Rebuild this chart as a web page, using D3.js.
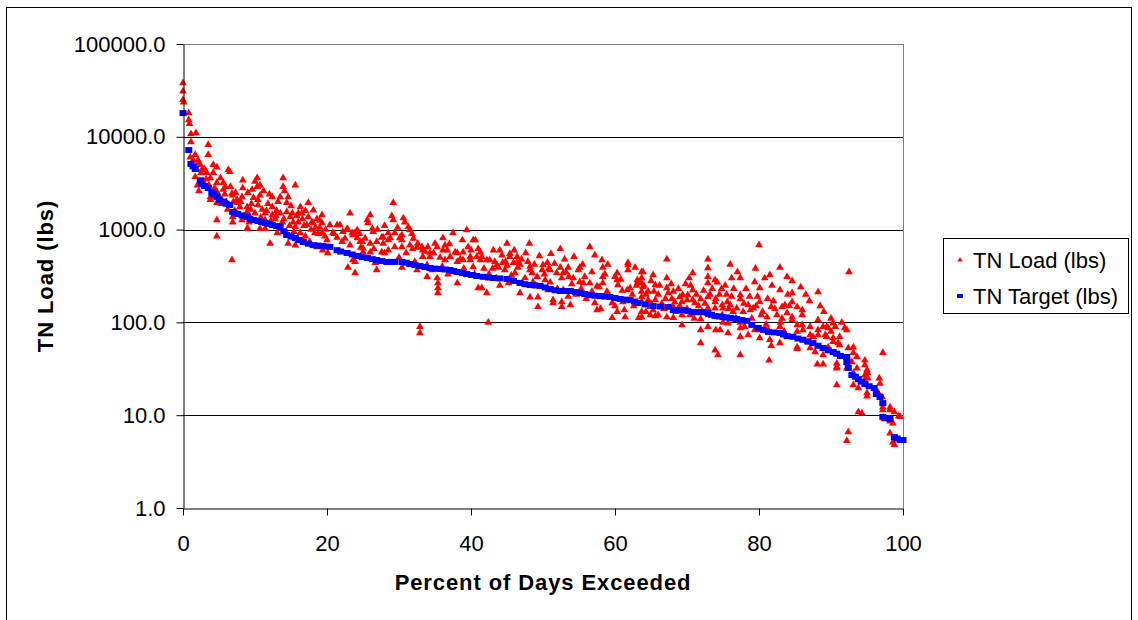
<!DOCTYPE html>
<html>
<head>
<meta charset="utf-8">
<script src="https://cdn.jsdelivr.net/npm/d3@7"></script>
<style>
body { margin: 0; background: #fff; }
text { font-family: "Liberation Sans", Arial, sans-serif; }
</style>
</head>
<body>
<svg id="chart" width="1138" height="620"></svg>
<script>
var xTicks = [0, 20, 40, 60, 80, 100];
var yTicks = [1, 10, 100, 1000, 10000, 100000];
var seriesNames = ["TN Load (lbs)", "TN Target (lbs)"];
var xTitle = "Percent of Days Exceeded";
var yTitle = "TN Load (lbs)";

// load duration target: [percent of days exceeded, lbs]
var targetPoints = [
  [0, 18000], [0.8, 7200], [1.1, 5100], [1.4, 4800], [1.7, 4500], [2.4, 3400], [2.6, 3100],
  [3.0, 2950], [3.5, 2800], [4.0, 2500], [4.3, 2400], [4.7, 2250], [5.1, 2100], [5.6, 2000],
  [6.0, 1900], [6.5, 1840], [6.9, 1550], [7.2, 1500], [7.6, 1470], [8.2, 1420], [8.9, 1370],
  [9.3, 1300], [9.8, 1270], [10.4, 1240], [10.9, 1210], [11.4, 1180], [11.9, 1150], [12.4, 1120],
  [13.0, 1090], [13.5, 1070], [14.0, 960], [14.4, 875], [15.0, 840], [15.6, 810], [16.1, 770],
  [16.7, 735], [17.4, 705], [18.1, 680], [18.7, 672], [19.4, 665], [20.0, 655], [20.4, 650],
  [21.4, 600], [21.9, 580], [22.8, 560], [23.5, 540], [24.2, 520], [24.9, 505], [25.6, 494],
  [26.3, 480], [26.9, 470], [27.6, 458], [28.3, 448], [29.0, 448], [29.4, 448], [30.4, 448],
  [31.0, 440], [31.5, 426], [32.2, 415], [32.9, 405], [33.6, 395], [34.3, 386], [35.0, 380],
  [35.7, 376], [36.4, 372], [37.1, 367], [37.6, 358], [38.1, 349], [38.8, 340], [39.4, 332],
  [40.1, 324], [40.8, 316], [41.7, 310], [42.4, 305], [43.1, 301], [44.0, 298], [45.0, 294],
  [45.9, 280], [46.8, 266], [47.5, 258], [48.2, 253], [48.9, 250], [49.6, 247], [50.3, 238],
  [51.0, 229], [51.7, 222], [52.4, 218], [53.1, 218], [53.8, 218], [54.5, 212], [55.1, 207],
  [55.8, 202], [56.5, 197], [57.2, 194], [57.9, 192], [58.6, 190], [59.3, 188], [60.0, 183],
  [60.7, 179], [61.4, 176], [62.1, 174], [62.7, 168], [63.2, 162], [64.2, 156], [65.3, 150],
  [66.3, 148], [67.4, 147], [68.1, 136], [68.7, 136], [69.4, 136], [70.1, 133], [70.8, 129],
  [71.5, 129], [72.1, 129], [72.9, 126], [73.4, 121], [73.9, 117], [74.5, 116], [75.0, 114],
  [75.5, 113], [76.0, 112], [76.5, 110], [76.9, 109], [77.6, 106], [78.3, 104], [79.0, 94],
  [79.9, 87], [80.6, 83], [81.3, 79], [82.1, 78], [82.9, 77], [83.4, 74], [83.9, 71],
  [84.7, 70], [85.4, 67], [86.1, 65], [86.8, 62], [87.5, 60], [88.2, 56], [88.9, 53],
  [89.6, 50], [90.3, 48], [90.8, 46], [91.3, 43.5], [92.2, 42.4], [92.2, 37.4], [92.4, 32.3],
  [92.9, 27.1], [93.4, 26], [93.8, 24.5], [94.2, 23], [94.7, 21.7], [95.3, 20.5], [96.0, 19.6],
  [96.3, 16.9], [96.8, 15.7], [97.2, 13.5], [97.2, 9.6], [97.7, 9.3], [98.2, 9.1], [98.8, 5.8],
  [99.2, 5.6], [99.6, 5.4], [100, 5.4]
];

// daily TN loads: [percent of days exceeded, lbs]
var loadPoints = [
  // 0 - 20 %
  [0, 38000], [0, 31000], [0, 25000], [0.1, 23500], [0.8, 18000], [0.8, 15200], [0.9, 13800],
  [1.1, 10700], [1.8, 11000], [1.1, 8800], [1.0, 6000], [1.7, 6400], [1.4, 5600], [2.1, 5600],
  [2.4, 5000], [1.9, 4400], [2.5, 4100], [3.5, 8200], [3.5, 6400], [4.2, 5000], [4.7, 4700],
  [4.2, 4100], [3.3, 4100], [2.6, 4400], [1.7, 3700], [3.8, 3600], [4.7, 3200], [5.6, 3200],
  [6.3, 4400], [6.5, 4200], [5.6, 2700], [4.7, 2550], [3.8, 2250], [3.8, 2100], [4.7, 1950],
  [6.8, 2450], [6.9, 2350], [7.6, 1950], [7.9, 1750], [8.3, 3400], [8.3, 2800], [9.0, 2500],
  [8.2, 2250], [8.9, 1750], [8.9, 1550], [6.9, 1370], [6.9, 1200], [8.2, 1270], [9.0, 1020],
  [9.3, 1370], [10.3, 3600], [10.3, 2900], [10.7, 3000], [10.7, 2350], [10.4, 2100], [10.4, 1840],
  [11.4, 1500], [11.4, 1270], [12.4, 2250], [12.4, 1750], [12.4, 1440], [13.5, 2250], [13.9, 3600],
  [13.9, 2900], [14.4, 1950], [14.4, 1550], [13.5, 1500], [14.6, 2250], [15.6, 3000], [14.9, 1370],
  [15.3, 1200], [15.6, 1070], [16.3, 1750], [16.5, 1500], [17.4, 1950], [17.4, 1370], [17.2, 1120],
  [18.1, 1620], [18.1, 1180], [18.3, 920], [18.6, 650], [19.3, 1440], [19.3, 1180], [19.3, 920],
  [19.4, 600], [20.1, 560], [20.0, 770], [12.1, 710], [13.5, 1020], [14.6, 710], [15.6, 680],
  [13.1, 920], [11.4, 1020], [8.9, 1020], [4.7, 1270], [4.7, 850], [6.8, 470], [10.7, 1020],
  [14.4, 920], [16.3, 920], [17.6, 740], [16.7, 770],
  [2.0, 3000], [2.8, 3300], [3.0, 2900], [3.2, 3500], [2.2, 2600], [5.0, 2300], [5.3, 1900],
  [6.0, 2000], [6.2, 1650], [7.2, 1600], [7.5, 2100], [9.5, 1900], [9.8, 2200], [11.0, 1650],
  [11.8, 1900], [12.8, 1300], [13.0, 1600], [15.0, 1800], [15.8, 1400], [16.0, 1200], [16.8, 1100],
  [17.8, 1000], [18.6, 1300], [19.0, 1050], [19.7, 850], [11.2, 2600], [12.0, 2400], [13.2, 2000],
  [14.1, 2600], [10.0, 3300], [9.6, 2700], [7.0, 2000], [5.8, 2400], [4.4, 2800], [3.6, 3000],
  [8.5, 1400], [9.2, 1200], [12.7, 1100], [14.8, 1100], [16.0, 1500], [18.8, 900],
  [10.0, 1500], [10.8, 1350], [11.6, 1600], [12.2, 1250], [13.8, 1200], [15.2, 1500], [16.6, 1300],
  [17.0, 1600], [17.9, 1200], [18.4, 1050], [19.0, 1250], [19.8, 1000], [6.6, 2900], [7.3, 2500],
  [8.0, 2000], [5.2, 3600], [5.9, 2900], [3.0, 4500], [2.2, 5200], [9.4, 1650], [12.9, 1400],
  [14.0, 1300], [15.4, 950], [17.0, 850],
  // 20 - 41 %
  [20.4, 1120], [21.4, 1120], [21.8, 1120], [20.8, 920], [21.4, 820], [22.1, 740], [22.2, 950],
  [22.8, 1020], [22.9, 990], [23.2, 1500], [23.5, 920], [23.6, 875], [23.9, 920], [24.2, 810],
  [23.2, 680], [23.6, 470], [23.9, 450], [22.9, 390], [23.9, 340], [24.9, 740], [25.0, 570],
  [25.6, 1270], [25.7, 1180], [26.0, 1440], [26.3, 1020], [26.4, 950], [26.0, 710], [26.0, 570],
  [26.7, 440], [26.9, 367], [26.9, 740], [27.6, 820], [27.6, 570], [27.8, 710], [28.5, 920],
  [28.8, 810], [28.5, 600], [29.2, 1950], [29.2, 1270], [29.4, 920], [29.4, 650], [30.4, 875],
  [30.4, 770], [30.4, 650], [30.4, 390], [31.3, 1070], [31.5, 990], [31.9, 620], [32.6, 710],
  [32.9, 90], [32.9, 77], [33.2, 650], [32.5, 367], [33.3, 510], [34.0, 650], [34.3, 510],
  [33.9, 416], [33.9, 310], [34.6, 367], [35.0, 710], [35.3, 300], [35.4, 265], [35.4, 235],
  [35.4, 207], [36.1, 810], [36.4, 680], [36.7, 600], [36.4, 470], [37.5, 920], [37.8, 570],
  [38.1, 450], [38.1, 265], [38.8, 770], [38.9, 570], [39.4, 990], [39.6, 650], [39.9, 470],
  [40.3, 395], [40.6, 770], [40.8, 510], [41.0, 235],
  [21.0, 900], [22.5, 800], [24.5, 900], [25.3, 800], [27.0, 1000], [28.0, 1100], [29.8, 1050],
  [30.8, 1200], [31.0, 560], [32.0, 800], [33.6, 580], [34.8, 560], [36.0, 400], [37.0, 700],
  [37.3, 350], [38.5, 480], [39.0, 380], [40.0, 600], [40.5, 330], [32.2, 450], [30.0, 500],
  [28.0, 560], [26.5, 620], [24.7, 640], [29.0, 1400], [31.8, 900], [35.7, 500], [36.8, 330],
  [30.6, 1330], [40.3, 770], [24.2, 990], [24.6, 740], [25.0, 630], [27.8, 830], [28.5, 770],
  [30.1, 810], [31.5, 680], [32.5, 640], [33.3, 600], [34.3, 560], [35.3, 650], [36.1, 600],
  [37.1, 510], [38.1, 560], [38.9, 470], [39.9, 510],
  // 41 - 63 %
  [41.3, 570], [41.5, 510], [41.5, 235], [42.2, 470], [42.2, 207], [42.4, 100], [43.1, 600],
  [43.3, 450], [43.8, 390], [44.3, 530], [44.4, 440], [44.7, 367], [45.0, 710], [45.2, 265],
  [45.4, 550], [45.9, 440], [46.1, 340], [46.4, 510], [46.5, 390], [46.8, 207], [47.1, 265],
  [47.9, 450], [48.1, 710], [48.2, 367], [48.5, 340], [48.2, 187], [48.6, 272], [49.3, 187],
  [49.3, 147], [49.9, 367], [50.0, 416], [50.3, 286], [50.6, 440], [50.7, 223], [51.1, 550],
  [51.4, 174], [51.4, 162], [51.9, 340], [52.4, 620], [52.4, 390], [52.6, 300], [52.6, 166],
  [52.8, 223], [52.6, 147], [53.5, 390], [53.6, 310], [53.5, 190], [53.8, 154], [54.3, 510],
  [54.9, 367], [55.1, 390], [55.1, 272], [55.8, 310], [56.5, 650], [56.5, 265], [56.8, 215],
  [57.2, 530], [57.2, 162], [57.5, 136], [58.2, 470], [58.3, 390], [58.3, 265], [58.9, 215],
  [59.6, 162], [59.6, 112], [60.0, 310], [60.3, 340], [60.3, 130], [60.4, 253], [61.1, 166],
  [61.3, 136], [61.4, 114], [61.8, 440], [61.8, 367], [62.1, 235], [62.8, 390], [63.1, 286],
  [63.3, 112],
  [41.8, 380], [42.5, 330], [43.5, 300], [44.0, 250], [44.8, 450], [45.6, 320], [46.0, 600],
  [47.0, 480], [47.5, 300], [48.8, 420], [49.5, 520], [50.2, 330], [51.0, 270], [51.6, 430],
  [52.0, 230], [53.0, 480], [54.0, 260], [54.6, 200], [55.5, 420], [56.0, 180], [56.8, 350],
  [57.8, 240], [58.6, 330], [59.0, 420], [59.3, 190], [60.0, 150], [60.8, 290], [61.0, 220],
  [62.4, 200], [62.6, 150], [63.0, 250], [58.0, 140], [55.3, 230], [53.2, 350], [50.8, 380],
  [46.8, 420], [43.0, 380], [49.0, 250], [47.6, 560], [44.0, 600], [41.0, 620], [45.0, 410],
  [41.3, 470], [42.6, 470], [43.6, 416], [45.4, 510], [46.4, 440], [48.2, 400], [49.2, 310],
  [51.0, 367], [52.8, 340], [54.2, 300], [55.6, 265], [57.5, 245], [58.3, 310], [60.3, 286],
  [61.7, 223], [63.1, 265], [61.8, 416], [63.9, 350],
  // 63 - 84 %
  [63.7, 349], [63.7, 301], [63.7, 266], [63.7, 215], [63.7, 188], [63.7, 166], [63.7, 130],
  [63.7, 114], [63.9, 240], [64.6, 215], [64.6, 174], [64.9, 147], [64.9, 120], [65.3, 324],
  [65.6, 253], [65.4, 215], [65.6, 174], [65.3, 136], [65.6, 117], [67.2, 480], [67.2, 301],
  [67.2, 235], [67.4, 207], [67.2, 114], [67.9, 180], [68.1, 215], [68.1, 147], [68.1, 112],
  [68.3, 166], [69.0, 188], [69.3, 166], [69.3, 120], [69.4, 197], [70.0, 174], [70.1, 197],
  [70.4, 120], [70.8, 340], [70.8, 223], [70.8, 174], [71.1, 162], [69.3, 94], [71.9, 179],
  [72.1, 130], [71.9, 109], [71.9, 83], [71.9, 60], [72.9, 480], [72.9, 386], [72.9, 310],
  [72.9, 266], [72.9, 188], [72.9, 142], [72.9, 90], [73.9, 286], [73.9, 166], [73.9, 142],
  [74.0, 83], [73.9, 50], [74.3, 44.5], [74.9, 154], [74.9, 120], [75.0, 142], [74.6, 83],
  [75.6, 166], [75.7, 98], [75.7, 77], [76.0, 154], [76.4, 130], [76.9, 142], [77.4, 301],
  [77.4, 197], [77.4, 179], [77.4, 100], [77.4, 87], [77.4, 70], [77.4, 44.5], [78.5, 154],
  [78.5, 73], [78.8, 136], [79.2, 142], [79.4, 272], [79.4, 83], [80.0, 682], [80.1, 235],
  [80.1, 166], [80.1, 83], [80.1, 68], [81.1, 114], [81.3, 83], [81.5, 65], [81.7, 56],
  [81.4, 39], [81.5, 324], [81.7, 147], [82.9, 390], [82.9, 223], [83.2, 147], [82.9, 90],
  [82.9, 60], [83.6, 154], [83.9, 310], [83.9, 126],
  [64.0, 250], [66.0, 200], [66.5, 160], [67.8, 260], [69.0, 150], [70.5, 250], [71.3, 200],
  [72.5, 160], [73.5, 230], [74.5, 200], [75.3, 250], [76.2, 190], [76.8, 110], [77.8, 130],
  [78.2, 230], [79.0, 110], [79.8, 190], [80.5, 130], [81.0, 95], [82.0, 170], [82.5, 120],
  [83.0, 100], [83.5, 80], [84.0, 200], [78.0, 90], [75.0, 100], [73.0, 120], [70.0, 140],
  [68.5, 130], [66.8, 140], [64.3, 130], [65.0, 280], [71.0, 110], [74.2, 270], [77.0, 350],
  [79.5, 380], [81.8, 250], [76.0, 420], [80.8, 300],
  [64.3, 200], [65.0, 160], [66.2, 250], [67.0, 180], [68.8, 230], [69.8, 260], [71.6, 150],
  [72.3, 220], [73.2, 200], [74.0, 180], [74.8, 230], [75.5, 200], [76.5, 230], [77.9, 160],
  [78.7, 190], [79.6, 150], [80.3, 120], [81.2, 180], [82.2, 140], [83.2, 110], [84.2, 150],
  [76.2, 300], [75.8, 140], [70.3, 300], [66.0, 120],
  // 84 - 100 %
  [84.6, 280], [84.6, 207], [84.6, 166], [84.6, 114], [84.6, 106], [85.3, 147], [86.0, 136],
  [85.3, 94], [85.3, 80], [85.3, 54], [85.3, 52], [86.0, 94], [86.1, 83], [86.8, 62],
  [87.1, 90], [87.1, 53], [87.8, 48], [88.2, 213], [88.2, 106], [88.2, 83], [88.2, 73],
  [88.1, 35.5], [88.9, 35.5], [88.9, 44.5], [89.4, 70], [89.4, 90], [89.6, 54], [90.3, 98],
  [90.3, 68], [90.3, 62], [90.6, 90], [90.8, 33], [90.8, 21.2], [91.0, 60], [91.2, 70],
  [91.2, 57], [91.9, 87], [92.2, 83], [92.5, 349], [92.4, 53], [92.2, 32], [92.4, 6.6],
  [92.2, 5.3], [93.1, 54], [93.1, 28.5], [93.1, 21.2], [93.6, 32], [93.8, 19.6], [93.8, 10.8],
  [94.3, 10.5], [94.7, 39], [94.7, 34.7], [95.0, 30.7], [95.0, 25.7], [95.0, 21.2], [95.0, 17.3],
  [95.0, 16], [95.1, 28.5], [95.1, 25], [93.1, 47], [93.6, 42.5], [92.9, 37.4], [96.7, 25],
  [96.8, 22], [96.5, 17.8], [97.2, 47], [97.1, 15.7], [97.2, 12.2], [97.2, 11.4], [97.4, 9.1],
  [98.2, 12.2], [98.2, 11.4], [98.8, 10.8], [98.2, 8.6], [98.6, 8.2], [98.2, 6.4], [98.8, 4.8],
  [98.6, 5.1], [99.4, 9.8], [99.6, 9.6], [88.9, 90], [87.5, 70], [87.1, 73], [89.2, 73],
  [89.6, 87], [90.0, 80], [90.8, 36], [90.8, 32], [93.8, 23.9], [94.7, 27], [94.7, 24],
  [85.8, 240], [86.5, 200], [87.0, 170], [89.0, 130], [90.0, 110], [91.5, 100], [86.0, 120],
  [88.5, 150]
];

var svg = d3.select("#chart");
var x = d3.scaleLinear().domain([0, 100]).range([183, 903]);
var y = d3.scaleLog().domain([1, 100000]).range([508, 44]);

// outer chart frame
svg.append("rect")
  .attr("x", 6.5).attr("y", 7.5)
  .attr("width", 1125).attr("height", 640)
  .attr("fill", "none").attr("stroke", "#000");

// horizontal gridlines
svg.append("g").selectAll("line")
  .data(yTicks.slice(1))
  .enter().append("line")
  .attr("x1", 183).attr("x2", 903)
  .attr("y1", function(d) { return Math.round(y(d)) + 0.5; })
  .attr("y2", function(d) { return Math.round(y(d)) + 0.5; })
  .attr("stroke", function(d) { return d === 100000 ? "#808080" : "#000"; });

// right edge of plot area
svg.append("line")
  .attr("x1", 903.5).attr("x2", 903.5)
  .attr("y1", 44).attr("y2", 508)
  .attr("stroke", "#808080");

// red daily loads
svg.append("g").selectAll("path")
  .data(loadPoints)
  .enter().append("path")
  .attr("d", d3.symbol().type(d3.symbolTriangle).size(26))
  .attr("transform", function(d) { return "translate(" + x(d[0]) + "," + y(d[1]) + ")"; })
  .attr("fill", "#ff0000");

// blue target curve
svg.append("g").selectAll("rect")
  .data(targetPoints)
  .enter().append("rect")
  .attr("x", function(d) { return x(d[0]) - 3.5; })
  .attr("y", function(d) { return y(d[1]) - 3; })
  .attr("width", 7).attr("height", 6)
  .attr("fill", "#0000ff");

// axes
var yAxis = svg.append("g")
  .attr("transform", "translate(183.5,0)")
  .call(d3.axisLeft(y).tickValues(yTicks).tickFormat(d3.format(".1f"))
    .tickSize(7).tickSizeOuter(0).tickPadding(11));
var xAxis = svg.append("g")
  .attr("transform", "translate(0,508.5)")
  .call(d3.axisBottom(x).tickValues(xTicks)
    .tickSize(7).tickSizeOuter(0).tickPadding(20));

[yAxis, xAxis].forEach(function(g) {
  g.select(".domain").attr("stroke", "#000");
  g.selectAll(".tick line").attr("stroke", "#000");
  g.selectAll("text")
    .attr("fill", "#000")
    .style("font-size", "22px")
    .style("font-family", "'Liberation Sans', Arial, sans-serif");
});

// axis titles
svg.append("text")
  .attr("x", 543).attr("y", 590)
  .attr("text-anchor", "middle")
  .style("font-size", "22px").style("font-weight", "bold")
  .style("letter-spacing", "0.9px")
  .text(xTitle);

svg.append("text")
  .attr("transform", "translate(53,276) rotate(-90)")
  .attr("text-anchor", "middle")
  .style("font-size", "22px").style("font-weight", "bold")
  .style("letter-spacing", "0.9px")
  .text(yTitle);

// legend
var legend = svg.append("g");
legend.append("rect")
  .attr("x", 943.5).attr("y", 238.5)
  .attr("width", 185).attr("height", 75)
  .attr("fill", "#fff").attr("stroke", "#000");

var items = legend.selectAll("g.item")
  .data(seriesNames)
  .enter().append("g").attr("class", "item")
  .attr("transform", function(d, i) { return "translate(960," + (260 + i * 36) + ")"; });

items.each(function(d, i) {
  var g = d3.select(this);
  if (i === 0) {
    g.append("path")
      .attr("d", d3.symbol().type(d3.symbolTriangle).size(12))
      .attr("fill", "#ff0000");
  } else {
    g.append("rect")
      .attr("x", -3).attr("y", -2)
      .attr("width", 6).attr("height", 4)
      .attr("fill", "#0000ff");
  }
  g.append("text")
    .attr("x", 13).attr("y", 8)
    .style("font-size", "22px")
    .text(d);
});
</script>
</body>
</html>
